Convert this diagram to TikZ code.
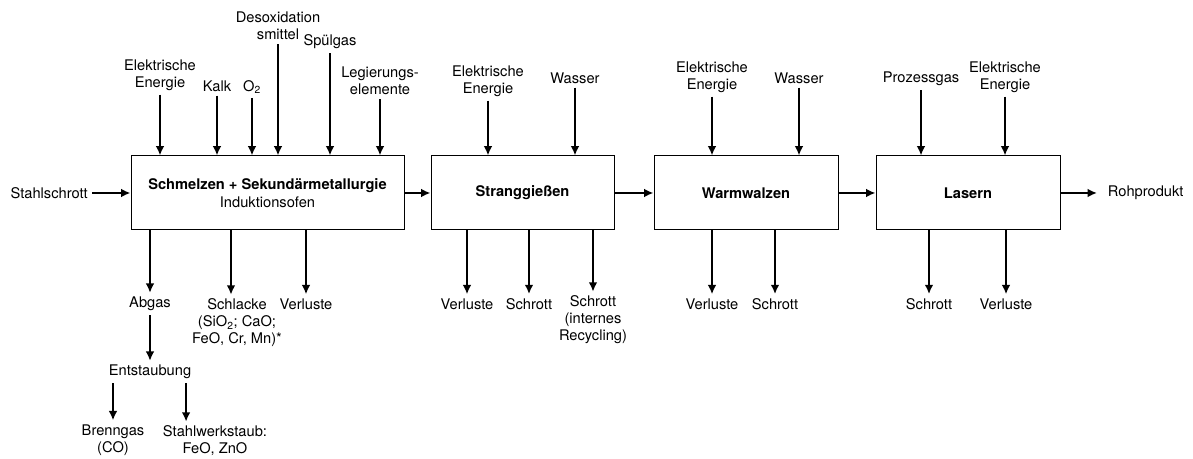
\documentclass[tikz,border=0pt]{standalone}
\usepackage{fontspec}
\setmainfont{TeX Gyre Heros}
\usepackage{tikz}
\usetikzlibrary{shapes,arrows.meta}
\usetikzlibrary{positioning}
\tikzstyle{arrow} = [line width=1.5pt,->,>={Latex[length=7pt,width=6.5pt]}]
\tikzstyle{process} = [
    rectangle, minimum height=55.5pt, text centered, align=center,
    draw=black, line width=0.75pt, font=\fontsize{11}{13.5}\selectfont]
\tikzstyle{flow} = [align=center, inner sep=3pt, font=\fontsize{11}{12.75}\selectfont]

\begin{document}
\begin{tikzpicture}[x=0.75pt,y=-0.75pt]
\useasboundingbox (0,0) rectangle (1193,459);

\node (schmelzen) [process, minimum width=204.75pt] at (267.5,193) {
    \textbf{Schmelzen + Sekundärmetallurgie} \\
    Induktionsofen
};
\node (strang) [process, minimum width=137.25pt, right=19.5pt of schmelzen] {\textbf{Stranggießen}};
\node (warm) [process, minimum width=138pt, right=29.25pt of strang] {\textbf{Warmwalzen}};
\node (lasern) [process, minimum width=138pt, right=27.75pt of warm] {\textbf{Lasern}};

% Eingang und Produkt
\node (stahlschrott) [flow, anchor=east] at (92,193) {Stahlschrott};
\node (rohprodukt) [flow, anchor=west, inner xsep=8pt] at (1097,193) {Rohprodukt};

% Einsatzstoffe oben
\node (ee-schmelzen) [flow] at (160,75) {Elektrische\\Energie};
\node (kalk) [flow] at (217,86) {Kalk};
\node (o2) [flow] at (252,87) {O\textsubscript{2}};
\node (desox) [flow] at (278,26) {Desoxidation\\smittel};
\node (spuelgas) [flow] at (330,42) {Spülgas};
\node (legierung) [flow] at (380,81) {Legierungs-\\elemente};
\node (ee-strang) [flow] at (488,81) {Elektrische\\Energie};
\node (wasser-strang) [flow] at (575,78) {Wasser};
\node (ee-warm) [flow] at (712,77) {Elektrische\\Energie};
\node (wasser-warm) [flow] at (799,78) {Wasser};
\node (prozessgas) [flow] at (921,79) {Prozessgas};
\node (ee-lasern) [flow] at (1005,77) {Elektrische\\Energie};

% Ausgaben unten
\node (abgas) [flow] at (150,304) {Abgas};
\node (schlacke) [flow] at (237,323) {Schlacke\\(SiO\textsubscript{2}; CaO;\\FeO, Cr, Mn)*};
\node (verluste-schmelzen) [flow] at (306,304) {Verluste};
\node (entstaubung) [flow] at (150,372) {Entstaubung};
\node (brenngas) [flow] at (113,440) {Brenngas\\(CO)};
\node (staub) [flow] at (215,441) {Stahlwerkstaub:\\FeO, ZnO};
\node (verluste-strang) [flow] at (467,304) {Verluste};
\node (schrott-strang) [flow] at (529,304) {Schrott};
\node (recycling) [flow] at (593,320) {Schrott\\(internes\\Recycling)};
\node (verluste-warm) [flow] at (712,304) {Verluste};
\node (schrott-warm) [flow] at (775,304) {Schrott};
\node (schrott-lasern) [flow] at (929,304) {Schrott};
\node (verluste-lasern) [flow] at (1006,304) {Verluste};

\draw [arrow] (stahlschrott) -- (schmelzen);
\draw [arrow] (schmelzen) -- (strang);
\draw [arrow] (strang) -- (warm);
\draw [arrow] (warm) -- (lasern);
\draw [arrow] (lasern) -- (rohprodukt);

\foreach \n/\b in {ee-schmelzen/schmelzen, kalk/schmelzen, o2/schmelzen, desox/schmelzen,
    spuelgas/schmelzen, legierung/schmelzen, ee-strang/strang, wasser-strang/strang,
    ee-warm/warm, wasser-warm/warm, prozessgas/lasern, ee-lasern/lasern}
    \draw [arrow] (\n) -- (\n |- \b.north);

\foreach \n/\b in {abgas/schmelzen, verluste-schmelzen/schmelzen, verluste-strang/strang,
    schrott-strang/strang, recycling/strang, verluste-warm/warm, schrott-warm/warm,
    schrott-lasern/lasern, verluste-lasern/lasern}
    \draw [arrow] (\b.south -| \n) -- (\n);

\draw [arrow] ([xshift=-4.5pt]schlacke.north |- schmelzen.south) -- ([xshift=-4.5pt]schlacke.north);
\draw [arrow] (abgas) -- (entstaubung);
\draw [arrow] (entstaubung.south -| brenngas) -- (brenngas);
\draw [arrow] ([xshift=-7pt]entstaubung.south east) -- ([xshift=-7pt]entstaubung.south east |- staub.north);
\end{tikzpicture}
\end{document}
